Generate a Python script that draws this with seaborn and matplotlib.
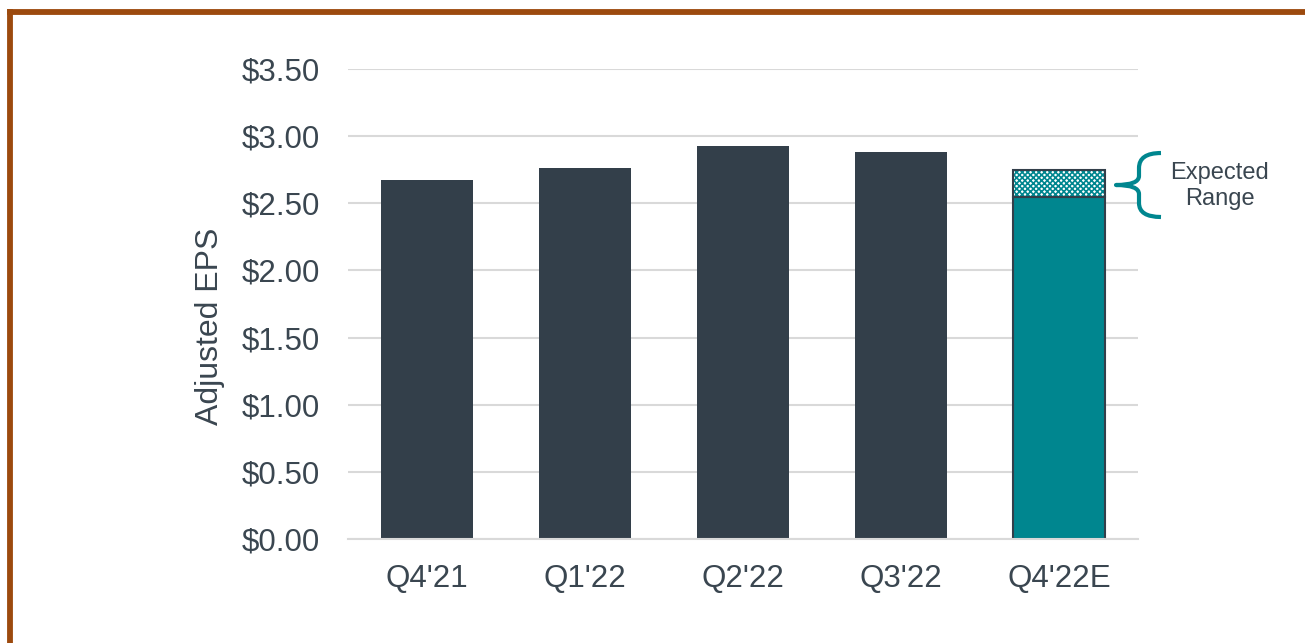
import matplotlib
matplotlib.use("Agg")
import matplotlib.pyplot as plt
import seaborn as sns
import pandas as pd
from matplotlib.path import Path
from matplotlib.patches import PathPatch

quarters = ["Q4'21", "Q1'22", "Q2'22", "Q3'22", "Q4'22E"]
eps = [2.67, 2.76, 2.93, 2.88, 2.55]
range_low = 2.55
range_high = 2.75
yticks = [0.0, 0.5, 1.0, 1.5, 2.0, 2.5, 3.0, 3.5]

dark = "#333F4A"
teal = "#00868F"
text_col = "#3A4650"
grid_col = "#D9D9D9"
border_col = "#9C4A0E"

sns.set_theme(style="white")
plt.rcParams['font.family'] = ['Liberation Sans', 'DejaVu Sans']
plt.rcParams['hatch.linewidth'] = 1.2

df = pd.DataFrame({"quarter": quarters, "eps": eps})
colors = [dark, dark, dark, dark, teal]

fig = plt.figure(figsize=(13.05, 6.43), dpi=100)
ax = fig.add_axes([348/1305, 1-539/643, (1138-348)/1305, (539-69)/643])

sns.barplot(data=df, x="quarter", y="eps", hue="quarter", palette=colors,
            width=0.58, saturation=1, legend=False, ax=ax, zorder=3)
for i, p in enumerate(ax.patches):
    if i == len(quarters) - 1:
        p.set_edgecolor(dark)
        p.set_linewidth(1.5)
    else:
        p.set_linewidth(0)

# expected range segment
ax.bar([4], [range_high - range_low], bottom=[range_low], width=0.58,
       color="white", edgecolor=teal, hatch="xxxxxx", linewidth=0, zorder=3)
ax.bar([4], [range_high - range_low], bottom=[range_low], width=0.58,
       fill=False, edgecolor=dark, linewidth=1.5, zorder=4)

ax.set_xlim(-0.5, 4.5)
ax.set_ylim(0, 3.5)
ax.set_yticks(yticks)
ax.set_yticklabels([f"${v:.2f}" for v in yticks])
ax.yaxis.grid(True, color=grid_col, linewidth=1.5, zorder=0)
ax.set_axisbelow(True)
for s in ["top", "right", "left"]:
    ax.spines[s].set_visible(False)
ax.spines["bottom"].set_color(grid_col)
ax.spines["bottom"].set_linewidth(1.5)
ax.spines["bottom"].set_zorder(5)
ax.tick_params(axis="y", length=0, pad=20, labelsize=22.5, labelcolor=text_col)
ax.tick_params(axis="x", length=0, pad=18, labelsize=22.5, labelcolor=text_col)
ax.set_xlabel("")
ax.set_ylabel("Adjusted EPS", fontsize=23, color=text_col, labelpad=12)
ax.yaxis.label.set_y(0.453)

# brace
def px(x):
    return (x - 428) / 158.0
def py(y):
    return (539 - y) / 134.29

verts = [(1162, 153), (1140, 153), (1140, 168), (1140, 176),
         (1140, 185), (1117, 185), (1140, 185), (1140, 194),
         (1140, 203), (1140, 217), (1162, 217)]
codes = [Path.MOVETO, Path.CURVE3, Path.CURVE3, Path.LINETO,
         Path.CURVE3, Path.CURVE3, Path.CURVE3, Path.CURVE3,
         Path.LINETO, Path.CURVE3, Path.CURVE3]
path = Path([(px(a), py(b)) for a, b in verts], codes)
ax.add_patch(PathPatch(path, facecolor="none", edgecolor=teal, linewidth=3,
                       clip_on=False, capstyle="butt", joinstyle="round"))
ax.text(px(1221), py(186), "Expected\nRange", ha="center", va="center",
        fontsize=17, color=text_col, linespacing=1.2, clip_on=False)

# border (left and top)
bx = 10.3 / 1305
by = 1 - 12 / 643
fig.add_artist(plt.Line2D([bx, bx], [-0.01, by], transform=fig.transFigure,
                          color=border_col, linewidth=4.2, solid_capstyle="projecting"))
fig.add_artist(plt.Line2D([bx, 1.01], [by, by], transform=fig.transFigure,
                          color=border_col, linewidth=4.2, solid_capstyle="projecting"))

fig.savefig("out.png", dpi=100)
